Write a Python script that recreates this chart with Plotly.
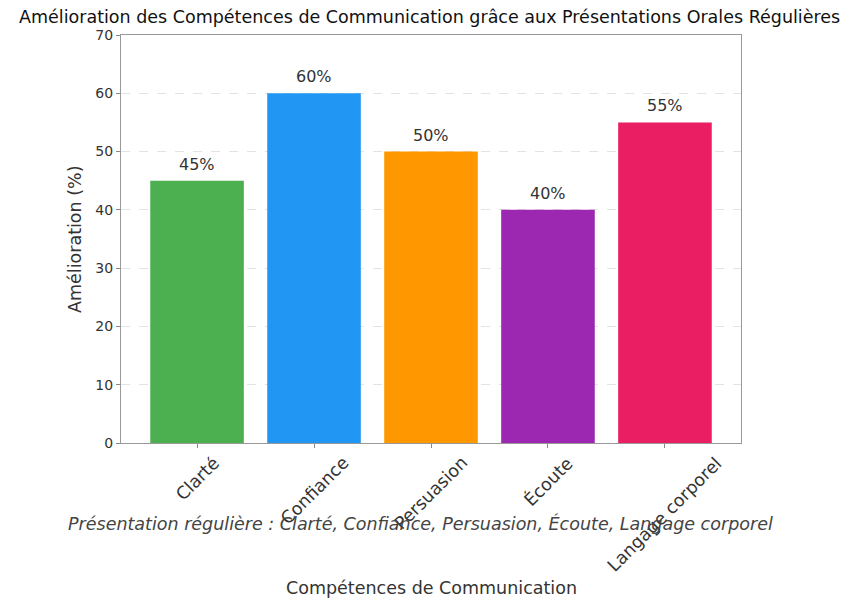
import plotly.graph_objects as go

categories = ["Clarté", "Confiance", "Persuasion", "Écoute", "Langage corporel"]
values = [45, 60, 50, 40, 55]
colors = ["#4CAF50", "#2196F3", "#FF9800", "#9C27B0", "#E91E63"]
title = "Amélioration des Compétences de Communication grâce aux Présentations Orales Régulières"
caption = "Présentation régulière : Clarté, Confiance, Persuasion, Écoute, Langage corporel"
xlabel = "Compétences de Communication"
ylabel = "Amélioration (%)"

FONT = "DejaVu Sans"
TXT = "#333333"

# page body has an 8px margin: figure coords = page coords - 8
OFF = 8
W, H = 855 - OFF, 602 - OFF
PL, PR, PT, PB = 121 - OFF, 741 - OFF, 35 - OFF, 443 - OFF
pw, ph = PR - PL, PB - PT


def px(xp):
    return (xp - OFF - PL) / pw


def py(yp):
    return (PB - (yp - OFF)) / ph


fig = go.Figure()
fig.add_trace(go.Bar(x=list(range(len(categories))), y=values, marker_color=colors,
                     marker_line_width=0, width=0.8, hoverinfo="skip"))

ann = []
for i, (c, v) in enumerate(zip(categories, values)):
    ann.append(dict(x=i, y=v, xref="x", yref="y", text=f"{v}%", showarrow=False,
                    yanchor="bottom", yshift=5, font=dict(family=FONT, size=16, color=TXT)))
    ann.append(dict(x=i, y=py(450), xref="x", yref="paper", text=c, showarrow=False,
                    textangle=-45, xanchor="center", yanchor="top",
                    font=dict(family=FONT, size=17.5, color=TXT)))
ann.append(dict(x=px(420), y=py(523), xref="paper", yref="paper", text=f"<i>{caption}</i>",
                showarrow=False, xanchor="center", yanchor="middle",
                font=dict(family=FONT, size=17.5, color="#444444")))
ann.append(dict(x=px(431), y=py(588), xref="paper", yref="paper", text=xlabel,
                showarrow=False, xanchor="center", yanchor="middle",
                font=dict(family=FONT, size=17.5, color=TXT)))
ann.append(dict(x=px(75), y=py(239), xref="paper", yref="paper", text=ylabel, textangle=-90,
                showarrow=False, xanchor="center", yanchor="middle",
                font=dict(family=FONT, size=17.5, color=TXT)))
ann.append(dict(x=px(429), y=py(17), xref="paper", yref="paper", text=title, showarrow=False,
                xanchor="center", yanchor="middle", font=dict(family=FONT, size=17.5, color="#111111")))

fig.update_layout(
    width=W, height=H,
    margin=dict(l=PL, r=W - PR, t=PT, b=H - PB),
    plot_bgcolor="white", paper_bgcolor="white",
    showlegend=False,
    annotations=ann,
    font=dict(family=FONT, size=14, color=TXT),
)
fig.update_xaxes(range=[-0.65, 4.65], showticklabels=False, ticks="outside", ticklen=4,
                 tickcolor="#888", tickvals=list(range(len(categories))),
                 showline=True, linecolor="#999", linewidth=1, mirror=True, showgrid=False,
                 zeroline=False)
fig.update_yaxes(range=[0, 70], dtick=10, ticks="outside", ticklen=4, tickcolor="#888",
                 showline=True, linecolor="#999", linewidth=1, mirror=True,
                 showgrid=True, gridcolor="#e3e3e3", griddash="dash", gridwidth=1,
                 zeroline=False, tickfont=dict(family=FONT, size=14, color=TXT))

fig.write_html("out.html")
